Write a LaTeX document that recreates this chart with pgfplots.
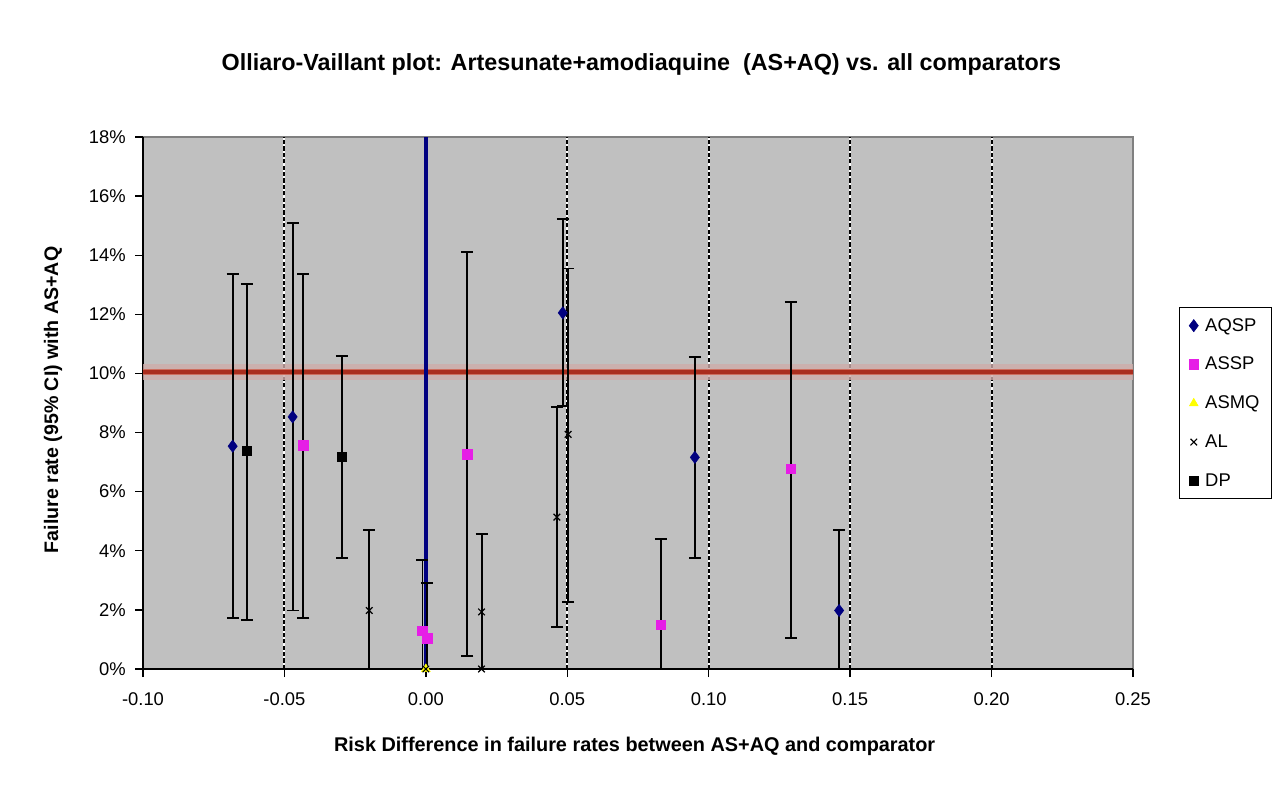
\documentclass[border=0pt]{standalone}
\usepackage{pgfplots}
\usepackage{pgfplotstable}
\pgfplotsset{compat=1.18}
\usepackage{fontspec}
\setmainfont{Liberation Sans}

\definecolor{plotgray}{RGB}{192,192,192}
\definecolor{navyblue}{RGB}{0,0,128}
\definecolor{pinkmag}{RGB}{230,30,230}
\definecolor{refred}{RGB}{170,45,30}
\definecolor{redmid}{RGB}{205,110,95}
\definecolor{redglow}{RGB}{206,172,170}
\definecolor{asmqyellow}{RGB}{255,255,0}

% risk difference (x), failure rate in % (y), 95% CI bounds in % (lo, hi)
\pgfplotstableread{
x       y      lo     hi
-0.0683 7.54   1.72   13.35
-0.0471 8.53   1.98   15.09
0.0484  12.05  8.90   15.21
0.0951  7.16   3.77   10.56
0.1461  1.98   0.00   4.71
}\tabAQSP

\pgfplotstableread{
x       y      lo     hi
-0.0433 7.58   1.72   13.35
-0.0012 1.30   0.00   3.69
0.0004  1.05   0.00   2.90
0.0147  7.26   0.43   14.10
0.0831  1.50   0.00   4.39
0.1290  6.77   1.05   12.42
}\tabASSP

\pgfplotstableread{
x       y
0.0000  0.00
}\tabASMQ

\pgfplotstableread{
x       y      lo     hi
-0.0200 1.98   0.00   4.71
0.0197  1.93   0.00   4.56
0.0463  5.14   1.42   8.87
0.0503  7.94   2.28   13.55
}\tabAL

\pgfplotstableread{
x       y
0.0000  0.00
0.0197  0.00
}\tabALzero

\pgfplotstableread{
x       y      lo     hi
-0.0633 7.39   1.67   13.04
-0.0297 7.18   3.77   10.58
}\tabDP

\begin{document}
\begin{tikzpicture}
\path[use as bounding box] (0,0) rectangle (960pt,591.75pt);

\node[font=\fontsize{17.5}{21}\selectfont\bfseries] at (481pt,543.5pt)
  {Olliaro-Vaillant plot: Artesunate+amodiaquine\ \ (AS+AQ) vs. all comparators};
\node[font=\fontsize{14.9}{18}\selectfont\bfseries] at (476pt,32.25pt)
  {Risk Difference in failure rates between AS+AQ and comparator};
\node[font=\fontsize{14.7}{18}\selectfont\bfseries, rotate=90] at (39.75pt,291.75pt)
  {Failure rate (95\% CI) with AS+AQ};

\begin{axis}[
  at={(107.25pt,90pt)}, anchor=south west,
  scale only axis, width=742.5pt, height=399pt,
  xmin=-0.1, xmax=0.25, ymin=0, ymax=18,
  axis x line*=bottom, axis y line*=left,
  axis line style={black, line width=1pt},
  axis background/.style={fill=plotgray, draw=gray, line width=0.8pt},
  xtick={-0.1,-0.05,0,0.05,0.1,0.15,0.2,0.25},
  xticklabels={-0.10,-0.05,0.00,0.05,0.10,0.15,0.20,0.25},
  ytick={0,2,4,6,8,10,12,14,16,18},
  yticklabels={0\%,2\%,4\%,6\%,8\%,10\%,12\%,14\%,16\%,18\%},
  tick align=outside, major tick length=6pt,
  tick style={black, line width=1pt},
  ticklabel style={font=\fontsize{13.8}{16}\selectfont},
  xticklabel style={yshift=-8pt},
  yticklabel style={xshift=-3.5pt},
  clip=false,
  legend style={at={(1.0465,0.6805)}, anchor=north west,
    draw=black, line width=0.9pt, fill=white,
    font=\fontsize{13.8}{16}\selectfont,
    row sep=14pt, inner xsep=7pt, inner ysep=6pt,
    /tikz/every odd column/.append style={column sep=3pt}},
  legend cell align=left,
  error bars/error bar style={black, line width=1.45pt},
  error bars/error mark options={black, rotate=90, mark size=4.5pt, line width=1.45pt},
]

% dashed vertical reference lines
\pgfplotsinvokeforeach{-0.05,0.05,0.1,0.15,0.2}{
  \draw[white, line width=1.5pt] (axis cs:#1,0) -- (axis cs:#1,18);
  \draw[black, line width=1.5pt, dash pattern=on 3.2pt off 1.6pt] (axis cs:#1,0) -- (axis cs:#1,18);
}

% 10% failure threshold
\addplot[forget plot, redglow, line width=12pt, opacity=0.8] coordinates {(-0.1,10.05) (0.25,10.05)};
\addplot[forget plot, redmid, line width=4.5pt] coordinates {(-0.1,10.05) (0.25,10.05)};
\addplot[forget plot, refred, line width=2.6pt] coordinates {(-0.1,10.05) (0.25,10.05)};

% zero risk difference
\addplot[forget plot, navyblue, line width=2.6pt] coordinates {(0,0) (0,18)};

\addplot[only marks, mark=diamond*, mark size=4.6pt, mark options={navyblue, fill=navyblue, line width=0.4pt},
  error bars/.cd, y dir=both, y explicit]
  table[x=x, y=y, y error plus expr=\thisrow{hi}-\thisrow{y}, y error minus expr=\thisrow{y}-\thisrow{lo}] {\tabAQSP};
\addlegendentry{AQSP}

\addplot[only marks, mark=square*, mark size=3.6pt, mark options={pinkmag, fill=pinkmag, line width=0.4pt},
  error bars/.cd, y dir=both, y explicit]
  table[x=x, y=y, y error plus expr=\thisrow{hi}-\thisrow{y}, y error minus expr=\thisrow{y}-\thisrow{lo}] {\tabASSP};
\addlegendentry{ASSP}

\addplot[only marks, mark=triangle*, mark size=3.8pt, mark options={asmqyellow, fill=asmqyellow, line width=0.4pt}]
  table[x=x, y=y] {\tabASMQ};
\addlegendentry{ASMQ}

\addplot[only marks, mark=x, mark size=3.5pt, mark options={black, line width=0.9pt},
  error bars/.cd, y dir=both, y explicit]
  table[x=x, y=y, y error plus expr=\thisrow{hi}-\thisrow{y}, y error minus expr=\thisrow{y}-\thisrow{lo}] {\tabAL};
\addlegendentry{AL}

\addplot[only marks, mark=square*, mark size=3.6pt, mark options={black, fill=black, line width=0.4pt},
  error bars/.cd, y dir=both, y explicit]
  table[x=x, y=y, y error plus expr=\thisrow{hi}-\thisrow{y}, y error minus expr=\thisrow{y}-\thisrow{lo}] {\tabDP};
\addlegendentry{DP}

\addplot[forget plot, only marks, mark=x, mark size=3.5pt, mark options={black, line width=0.9pt}]
  table[x=x, y=y] {\tabALzero};

\end{axis}
\end{tikzpicture}
\end{document}
